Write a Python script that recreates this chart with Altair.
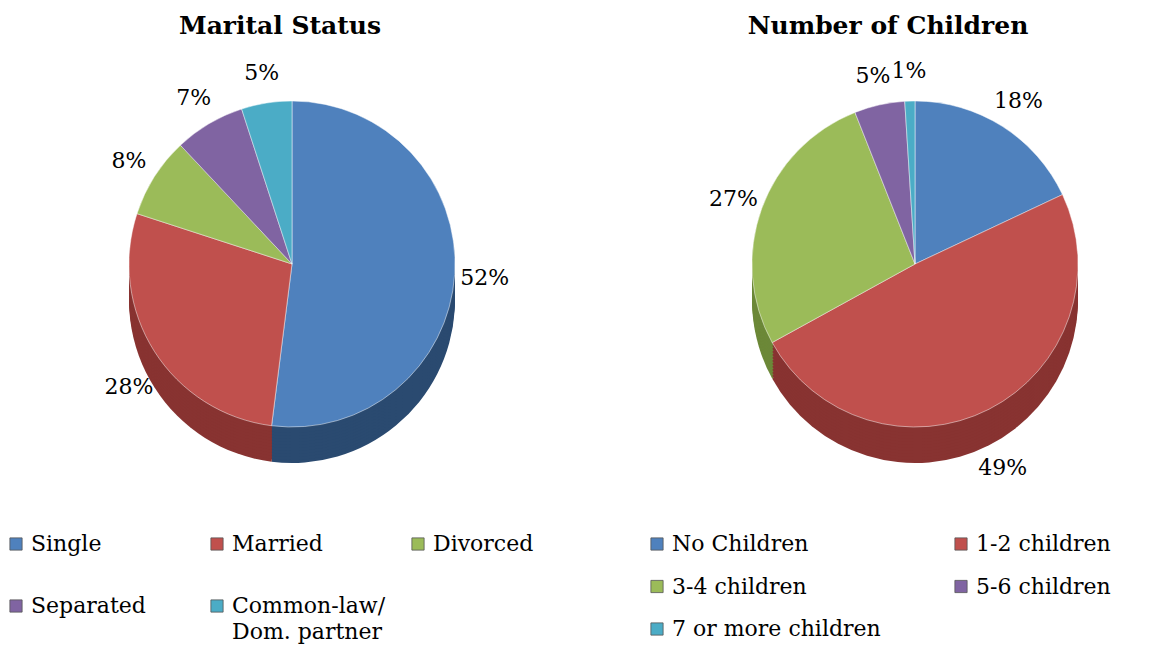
import altair as alt
import pandas as pd

# ---- data ----
marital_cats = ["Single", "Married", "Divorced", "Separated", "Common-law/ Dom. partner"]
marital_vals = [52, 28, 8, 7, 5]
children_cats = ["No Children", "1-2 children", "3-4 children", "5-6 children", "7 or more children"]
children_vals = [18, 49, 27, 5, 1]
top_colors = ["#4F81BD", "#C0504D", "#9BBB59", "#8064A2", "#4BACC6"]
side_colors = ["#2A4A70", "#883331", "#6C8838", "#594579", "#2F879F"]
titles = ["Marital Status", "Number of Children"]

FONT = "DejaVu Serif"
W, H = 1151, 641
R = 163
DEPTH = 36


def pie(cats, vals, cx, cy, title, tx, legend):
    df = pd.DataFrame({"cat": cats, "v": vals, "ord": list(range(len(cats))), "dark": side_colors})
    tscale = alt.Scale(domain=[0, sum(vals)])
    base = alt.Chart(df).encode(
        theta=alt.Theta("v:Q", stack=True, scale=tscale),
        order=alt.Order("ord:Q"),
    )
    layers = []
    for off in range(DEPTH, 0, -3):
        layers.append(
            base.mark_arc(outerRadius=R).encode(
                fill=alt.Fill("dark:N", scale=None),
                x=alt.value(cx), y=alt.value(cy + off),
            )
        )
    top = base.mark_arc(outerRadius=R, stroke="#ffffff", strokeWidth=0.8, strokeOpacity=0.6).encode(
        color=alt.Color("cat:N", scale=alt.Scale(domain=cats, range=top_colors), legend=legend),
        x=alt.value(cx), y=alt.value(cy),
    )
    labels = alt.Chart(df).transform_window(
        cum="sum(v)", sort=[alt.SortField("ord")], frame=[None, 0]
    ).transform_joinaggregate(tot="sum(v)").transform_calculate(
        lbl="datum.v + '%'",
        mid="datum.cum - datum.v / 2",
    ).transform_calculate(
        dy=f"max(0, -cos(datum.mid / datum.tot * 2 * PI)) * {DEPTH}",
    ).mark_text(
        radius=R + 30, font=FONT, fontSize=22, color="#000000"
    ).encode(
        theta=alt.Theta("mid:Q", stack=None, scale=tscale),
        text="lbl:N", x=alt.value(cx), y=alt.value(cy),
        yOffset=alt.YOffset("dy:Q", scale=None),
    )
    ttl = alt.Chart(pd.DataFrame({"t": [title]})).mark_text(
        font=FONT, fontSize=25, fontWeight="bold", color="#000000"
    ).encode(text="t:N", x=alt.value(tx), y=alt.value(18))
    return alt.layer(*layers, top, labels, ttl)


legend_common = dict(
    title=None, orient="none", direction="horizontal",
    symbolType="square", symbolSize=150, symbolStrokeWidth=0.8, symbolStrokeColor="#555555",
    labelFont=FONT, labelFontSize=22, labelColor="#000000", labelLimit=400,
    gridAlign="all", legendY=525,
)

left_legend = alt.Legend(
    legendX=-3, columns=3, columnPadding=21, rowPadding=40,
    labelExpr="datum.label == 'Common-law/ Dom. partner' ? 'Common-law/' : datum.label",
    **legend_common,
)
right_legend = alt.Legend(legendX=638, columns=2, columnPadding=69, rowPadding=20.5, **legend_common)

left = pie(marital_cats, marital_vals, 284, 256, titles[0], 272, left_legend)
right = pie(children_cats, children_vals, 907, 256, titles[1], 880, right_legend)

# second line of the wrapped legend label
wrap = alt.Chart(pd.DataFrame({"t": ["Dom. partner"]})).mark_text(
    font=FONT, fontSize=22, color="#000000", align="left", baseline="middle"
).encode(text="t:N", x=alt.value(224), y=alt.value(624))

chart = alt.layer(left, right, wrap).resolve_scale(color="independent", theta="independent").properties(
    width=W, height=H, autosize=alt.AutoSizeParams(type="none"), padding=0
).configure_view(stroke=None)

chart.save("out.html", embed_options={"renderer": "svg", "actions": False})
